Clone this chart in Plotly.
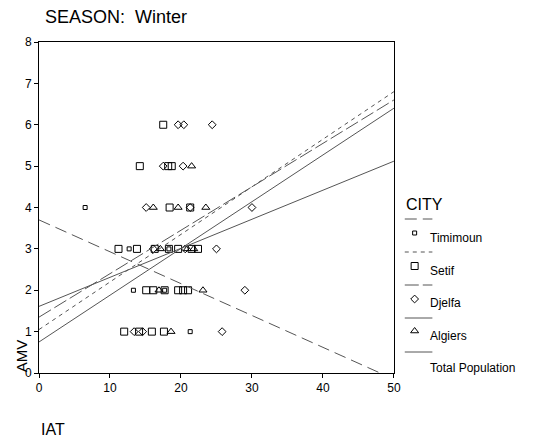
import plotly.graph_objects as go

# ---------------- data ----------------
timimoun_iat = [6.5, 12.7, 18.3, 13.3, 17.7, 21.3]
timimoun_amv = [4, 3, 3, 2, 2, 1]

setif_iat = [17.5, 14.2, 18.2, 18.7, 18.4, 21.3, 11.2, 13.8, 16.3, 18.3, 19.6, 21.5, 22.4,
             15.1, 16.1, 17.7, 19.6, 20.3, 21.0, 12.0, 14.1, 15.9, 17.6]
setif_amv = [6, 5, 5, 5, 4, 4, 3, 3, 3, 3, 3, 3, 3, 2, 2, 2, 2, 2, 2, 1, 1, 1, 1]

djelfa_iat = [19.6, 20.4, 24.4, 17.5, 20.3, 15.1, 21.3, 30.0, 16.1, 20.6, 25.0, 29.0, 13.4, 14.6, 25.8]
djelfa_amv = [6, 6, 6, 5, 5, 4, 4, 4, 3, 3, 3, 2, 1, 1, 1]

algiers_iat = [21.5, 16.1, 19.6, 23.5, 17.1, 20.9, 21.8, 16.9, 23.1, 18.6]
algiers_amv = [5, 4, 4, 4, 3, 3, 3, 2, 2, 1]

fit_x = [0, 50]
timimoun_fit = [3.7, -0.15]
setif_fit = [1.05, 6.8]
djelfa_fit = [1.35, 6.6]
algiers_fit = [0.75, 6.4]
total_fit = [1.61, 5.12]

x_ticks = [0, 10, 20, 30, 40, 50]
y_ticks = [0, 1, 2, 3, 4, 5, 6, 7, 8]

legend_names = ["Timimoun", "Setif", "Djelfa", "Algiers", "Total Population"]

# ---------------- layout geometry (pixels) ----------------
W, H = 536, 439
ML, MR, MT, MB = 39, 0, 42, 66
PLOT_R = 399
FONT = "Arial, Liberation Sans, sans-serif"
LINE_COLOR = "#555555"


def px(x):
    return (x - ML) / (W - ML - MR)


def py(y):
    return (H - MB - y) / (H - MT - MB)


dom_end = px(PLOT_R)

fig = go.Figure()

mk = dict(color="black", line=dict(color="black", width=1))

fig.add_trace(go.Scatter(x=timimoun_iat, y=timimoun_amv, mode="markers",
                         marker=dict(symbol="square-open", size=4, **mk), name="Timimoun"))
fig.add_trace(go.Scatter(x=setif_iat, y=setif_amv, mode="markers",
                         marker=dict(symbol="square-open", size=7, **mk), name="Setif"))
fig.add_trace(go.Scatter(x=djelfa_iat, y=djelfa_amv, mode="markers",
                         marker=dict(symbol="diamond-open", size=6, **mk), name="Djelfa"))
fig.add_trace(go.Scatter(x=algiers_iat, y=algiers_amv, mode="markers",
                         marker=dict(symbol="triangle-up-open", size=7, **mk), name="Algiers"))

dash_styles = ["12px,6px", "4px,4px", "14px,4px", "solid", "solid"]
fits = [timimoun_fit, setif_fit, djelfa_fit, algiers_fit, total_fit]
for name, fy, d in zip(legend_names, fits, dash_styles):
    fig.add_trace(go.Scatter(x=fit_x, y=fy, mode="lines",
                             line=dict(color=LINE_COLOR, width=1, dash=d), name=name + " fit"))

# ---------------- manual legend ----------------
leg_x0, leg_x1 = 410, 438
line_y = [219, 252, 285, 318, 352]
marker_y = [233, 266, 299, 331]
text_y = [238, 271, 303, 336, 368]
leg_symbols = ["square-open", "square-open", "diamond-open", "triangle-up-open"]
leg_sizes = [4, 7, 6, 7]

shapes = []
for ly, d in zip(line_y, dash_styles):
    shapes.append(dict(type="line", xref="paper", yref="paper",
                       x0=px(leg_x0), x1=px(leg_x1), y0=py(ly), y1=py(ly),
                       line=dict(color=LINE_COLOR, width=1, dash=d)))

for sym, sz, my in zip(leg_symbols, leg_sizes, marker_y):
    fig.add_trace(go.Scatter(x=[420], y=[my], mode="markers", xaxis="x2", yaxis="y2",
                             marker=dict(symbol=sym, size=sz, **mk), showlegend=False,
                             hoverinfo="skip"))

annotations = [
    dict(text="SEASON:  Winter", x=px(43), y=py(17), xref="paper", yref="paper",
         xanchor="left", yanchor="middle", showarrow=False, font=dict(size=18)),
    dict(text="IAT", x=px(39), y=py(429), xref="paper", yref="paper",
         xanchor="left", yanchor="middle", showarrow=False, font=dict(size=16)),
    dict(text="AMV", x=px(21), y=py(356), xref="paper", yref="paper",
         xanchor="center", yanchor="middle", textangle=-90, showarrow=False, font=dict(size=15)),
    dict(text="CITY", x=px(409), y=py(204), xref="paper", yref="paper",
         xanchor="left", yanchor="middle", showarrow=False, font=dict(size=16)),
]
for name, ty in zip(legend_names, text_y):
    annotations.append(dict(text=name, x=px(434), y=py(ty), xref="paper", yref="paper",
                            xanchor="left", yanchor="middle", showarrow=False,
                            font=dict(size=12)))

fig.update_layout(
    width=W, height=H,
    margin=dict(l=ML, r=MR, t=MT, b=MB),
    paper_bgcolor="white", plot_bgcolor="white",
    font=dict(family=FONT, color="black", size=12),
    showlegend=False,
    hovermode=False,
    xaxis=dict(domain=[0, dom_end], range=[0, 50], tickvals=x_ticks, ticks="outside",
               ticklen=4, tickcolor="black", showline=True, linecolor="black", linewidth=1,
               mirror=True, showgrid=False, zeroline=False, tickfont=dict(size=12)),
    yaxis=dict(range=[0, 8], tickvals=y_ticks, ticks="outside", ticklen=4, tickcolor="black",
               showline=True, linecolor="black", linewidth=1, mirror=True, showgrid=False,
               zeroline=False, tickfont=dict(size=12)),
    xaxis2=dict(domain=[dom_end, 1], range=[PLOT_R, W], visible=False, anchor="y2"),
    yaxis2=dict(domain=[0, 1], range=[H - MB, MT], visible=False, anchor="x2"),
    shapes=shapes,
    annotations=annotations,
)

fig.write_html("out.html", config={"displayModeBar": False},
               post_script="document.body.style.margin='0';document.body.style.overflow='hidden';")
